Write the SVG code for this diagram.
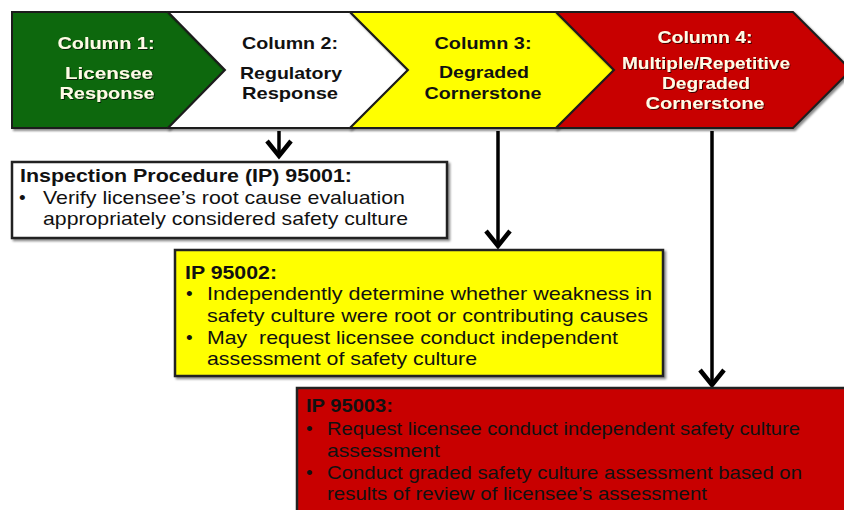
<svg xmlns="http://www.w3.org/2000/svg" width="844" height="510" viewBox="0 0 844 510">
<defs>
<filter id="sh" x="-5%" y="-5%" width="115%" height="120%">
<feDropShadow dx="2" dy="2" stdDeviation="1.2" flood-color="#000" flood-opacity="0.45"/>
</filter>
<filter id="tsh" x="-5%" y="-20%" width="115%" height="150%">
<feDropShadow dx="1" dy="1" stdDeviation="0.4" flood-color="#000" flood-opacity="0.7"/>
</filter>
<marker id="arr" viewBox="-20 -16 24 32" markerWidth="24" markerHeight="32" refX="0" refY="0" orient="auto" markerUnits="userSpaceOnUse">
<path d="M-15,-12 L0,0 L-15,12" fill="none" stroke="#000" stroke-width="4.5" stroke-linejoin="miter"/>
</marker>
<style>
.chev{stroke:#1e1e1e;stroke-width:2;filter:url(#sh)}
.box{stroke:#222;stroke-width:2.5;filter:url(#sh)}
.hd{font-family:"Liberation Sans",Arial,sans-serif;font-weight:bold;font-size:17px}
.hw{fill:#fffbe6;filter:url(#tsh)}
.hb{fill:#111}
.bt{font-family:"Liberation Sans",Arial,sans-serif;font-size:19px;fill:#111}
.bb{font-weight:bold}
.conn{stroke:#000;stroke-width:3.5;fill:none;marker-end:url(#arr)}
</style>
</defs>

<g id="connectors">
<line class="conn" x1="279" y1="131" x2="279" y2="156"/>
<line class="conn" x1="498" y1="131" x2="498" y2="246"/>
<line class="conn" x1="712" y1="131" x2="712" y2="385"/>
</g>

<g id="col1">
<polygon class="chev" fill="#0a670a" points="12,12 168,12 225,70 168,128 12,128"/>
<text class="hd hw" x="106" y="49" text-anchor="middle" textLength="97" lengthAdjust="spacingAndGlyphs">Column 1:</text>
<text class="hd hw" x="109" y="79" text-anchor="middle" textLength="88" lengthAdjust="spacingAndGlyphs">Licensee</text>
<text class="hd hw" x="107" y="99" text-anchor="middle" textLength="95" lengthAdjust="spacingAndGlyphs">Response</text>
</g>

<g id="col2">
<polygon class="chev" fill="#ffffff" points="168,12 350,12 408,70 350,128 168,128 225,70"/>
<text class="hd hb" x="290" y="49" text-anchor="middle" textLength="96" lengthAdjust="spacingAndGlyphs">Column 2:</text>
<text class="hd hb" x="291" y="79" text-anchor="middle" textLength="102" lengthAdjust="spacingAndGlyphs">Regulatory</text>
<text class="hd hb" x="290" y="99" text-anchor="middle" textLength="96" lengthAdjust="spacingAndGlyphs">Response</text>
</g>

<g id="col3">
<polygon class="chev" fill="#ffff00" points="350,12 556,12 614,70 556,128 350,128 408,70"/>
<text class="hd hb" x="483" y="49" text-anchor="middle" textLength="97" lengthAdjust="spacingAndGlyphs">Column 3:</text>
<text class="hd hb" x="484" y="78" text-anchor="middle" textLength="90" lengthAdjust="spacingAndGlyphs">Degraded</text>
<text class="hd hb" x="483" y="99" text-anchor="middle" textLength="117" lengthAdjust="spacingAndGlyphs">Cornerstone</text>
</g>

<g id="col4">
<polygon class="chev" fill="#c80000" points="556,12 793,12 851,70 793,128 556,128 614,70"/>
<text class="hd hw" x="705" y="43" text-anchor="middle" textLength="95" lengthAdjust="spacingAndGlyphs">Column 4:</text>
<text class="hd hw" x="706" y="69" text-anchor="middle" textLength="168" lengthAdjust="spacingAndGlyphs">Multiple/Repetitive</text>
<text class="hd hw" x="706" y="89" text-anchor="middle" textLength="88" lengthAdjust="spacingAndGlyphs">Degraded</text>
<text class="hd hw" x="705" y="109" text-anchor="middle" textLength="119" lengthAdjust="spacingAndGlyphs">Cornerstone</text>
</g>

<g id="ip95001">
<rect class="box" fill="#ffffff" x="12" y="162" width="435" height="76"/>
<text class="bt bb" x="20" y="182" textLength="332" lengthAdjust="spacingAndGlyphs">Inspection Procedure (IP) 95001:</text>
<text class="bt" x="19" y="204">•</text>
<text class="bt" x="43" y="204" textLength="362" lengthAdjust="spacingAndGlyphs">Verify licensee’s root cause evaluation</text>
<text class="bt" x="43" y="225" textLength="365" lengthAdjust="spacingAndGlyphs">appropriately considered safety culture</text>
</g>

<g id="ip95002">
<rect class="box" fill="#ffff00" x="175" y="250" width="488" height="126"/>
<text class="bt bb" x="185" y="279" textLength="92" lengthAdjust="spacingAndGlyphs">IP 95002:</text>
<text class="bt" x="186" y="300">•</text>
<text class="bt" x="207" y="300" textLength="445" lengthAdjust="spacingAndGlyphs">Independently determine whether weakness in</text>
<text class="bt" x="207" y="322" textLength="441" lengthAdjust="spacingAndGlyphs">safety culture were root or contributing causes</text>
<text class="bt" x="186" y="344">•</text>
<text class="bt" x="207" y="344" textLength="411" lengthAdjust="spacingAndGlyphs" xml:space="preserve">May  request licensee conduct independent</text>
<text class="bt" x="207" y="365" textLength="270" lengthAdjust="spacingAndGlyphs">assessment of safety culture</text>
</g>

<g id="ip95003">
<rect class="box" fill="#c80000" x="297" y="388" width="570" height="140"/>
<text class="bt bb" x="306" y="412" textLength="87" lengthAdjust="spacingAndGlyphs">IP 95003:</text>
<text class="bt" x="306" y="435">•</text>
<text class="bt" x="327" y="435" textLength="473" lengthAdjust="spacingAndGlyphs">Request licensee conduct independent safety culture</text>
<text class="bt" x="327" y="457" textLength="113" lengthAdjust="spacingAndGlyphs">assessment</text>
<text class="bt" x="306" y="479">•</text>
<text class="bt" x="327" y="479" textLength="475" lengthAdjust="spacingAndGlyphs">Conduct graded safety culture assessment based on</text>
<text class="bt" x="327" y="500" textLength="380" lengthAdjust="spacingAndGlyphs">results of review of licensee’s assessment</text>
</g>
</svg>
